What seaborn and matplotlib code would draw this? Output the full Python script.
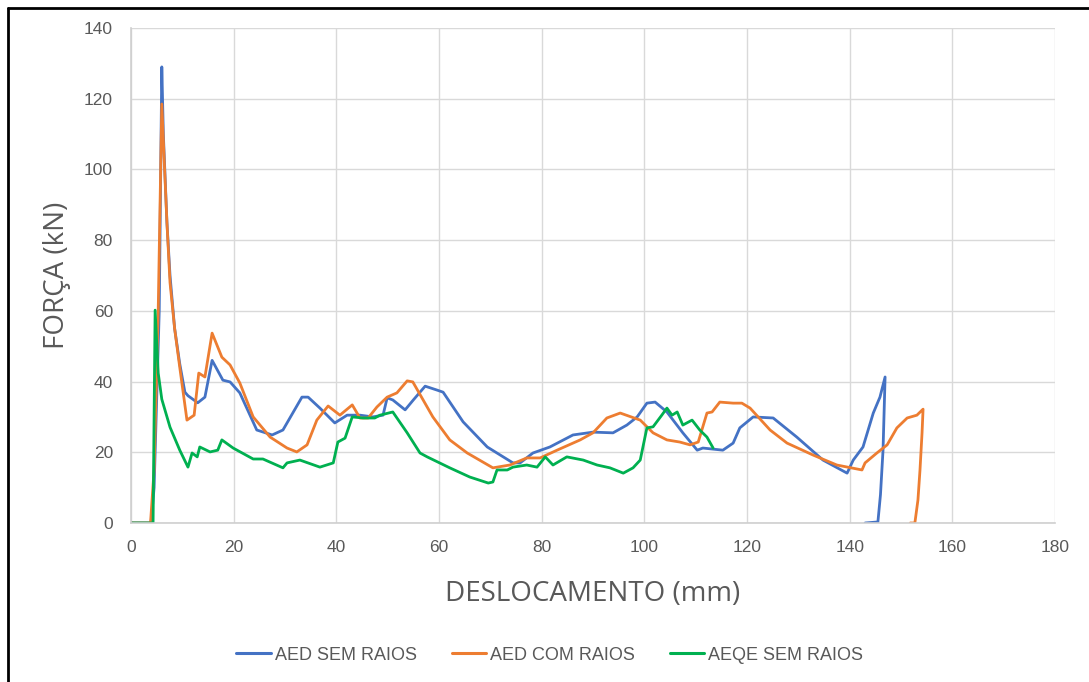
import matplotlib
matplotlib.use("Agg")
import matplotlib.pyplot as plt
import seaborn as sns
import pandas as pd
from matplotlib.lines import Line2D

# ---- data ----
blue_x = [0, 3.9, 4.5, 5.5, 6.0, 6.3, 7.0, 7.6, 8.5, 9.5, 10.5, 11.1, 13.0, 14.4, 15.8, 17.9, 19.3,
          21.2, 24.5, 27.5, 29.6, 33.3, 34.5, 36.8, 39.7, 42.1, 44.6, 47.1, 49.1, 49.9, 51.0, 53.4,
          55.0, 57.3, 59.6, 60.8, 64.7, 69.4, 74.4, 75.8, 78.3, 81.6, 86.1, 90.0, 93.9, 96.6, 98.6,
          100.5, 102.1, 104.4, 107.5, 110.3, 111.4, 115.3, 117.3, 118.6, 121.2, 125.1, 129.7, 134.8,
          139.5, 140.7, 142.6, 144.6, 145.9, 146.9, 146.5, 146.0, 145.5, 143.0]
blue_y = [0, 0, 10, 60, 129, 110, 85, 70, 55, 45, 37, 36, 34, 35.6, 46, 40.4, 39.9,
          36.8, 26.3, 24.9, 26.3, 35.6, 35.6, 32.5, 28.3, 30.5, 30.5, 30, 30.5, 35.4, 34.8, 32,
          34.8, 38.7, 37.6, 37, 28.6, 21.5, 17, 17, 19.8, 21.5, 24.9, 25.7, 25.5, 27.7, 30,
          33.9, 34.2, 31.4, 25.5, 20.6, 21.2, 20.6, 22.6, 26.9, 30, 29.7, 24.3, 17.8,
          14.1, 17.8, 21.5, 31.1, 35.6, 41.3, 20.6, 8, 0.3, 0]

orange_x = [0, 3.8, 4.5, 5.3, 6.0, 6.4, 7.0, 7.6, 8.5, 9.5, 10.9, 12.3, 13.2, 14.4, 15.8, 17.7, 19.3,
            21.2, 23.8, 27.1, 30.4, 32.3, 34.3, 36.2, 38.4, 40.7, 43.1, 44.6, 46.2, 47.9, 49.9, 51.8,
            53.8, 54.9, 58.8, 62.1, 65.5, 70.5, 73.8, 77.1, 79.7, 83.0, 87.5, 90.0, 92.7, 95.3, 99.2,
            101.7, 104.4, 106.9, 108.9, 110.5, 112.2, 113.2, 114.7, 117.3, 119.0, 120.6, 124.5, 127.8,
            132.9, 137.5, 142.4, 143.0, 145.3, 147.3, 149.2, 151.2, 153.1, 154.3, 154.1, 153.7, 153.3,
            152.7, 151.8]
orange_y = [0, 0, 15, 60, 118.5, 105, 85, 68, 55, 44, 29.1, 30.5, 42.4, 41.3, 53.7, 46.9, 44.7,
            39.6, 30, 24.3, 21.2, 20.1, 22.1, 29.1, 33.1, 30.5, 33.4, 29.7, 29.7, 32.8, 35.6, 36.8,
            40.2, 39.9, 30, 23.5, 19.8, 15.6, 16.4, 18.4, 18.4, 20.6, 23.5, 25.5, 29.7, 31.1, 29.1,
            25.5, 23.5, 22.9, 22.1, 22.9, 31.1, 31.4, 34.2, 33.9, 33.9, 32.5, 26.3, 22.6,
            19.2, 16.4, 15.0, 17.0, 19.8, 22.1, 26.9, 29.7, 30.5, 32.2, 25.5, 15, 6.5,
            0, 0]

green_x = [0, 4.3, 4.7, 5.3, 6.0, 7.6, 9.5, 11.1, 11.9, 12.9, 13.4, 15.4, 16.9, 17.7, 19.9, 23.8,
           25.7, 29.6, 30.4, 32.9, 36.8, 39.4, 40.3, 41.7, 43.1, 45.2, 47.5, 48.5, 51.0, 53.8, 56.3,
           57.7, 62.1, 66.0, 69.6, 70.5, 71.3, 73.3, 74.4, 77.1, 79.1, 80.7, 82.2, 84.9, 88.1, 90.8,
           93.3, 95.9, 97.8, 99.2, 100.5, 101.7, 103.4, 104.4, 105.4, 106.4, 107.5, 109.3, 110.8,
           112.2, 113.4]
green_y = [0, 0, 60.2, 42.4, 35, 27.1, 20.6, 15.8, 19.8, 18.7, 21.5, 20.1, 20.6, 23.5, 21.2, 18.1,
           18.1, 15.6, 17, 17.8, 15.8, 17, 22.9, 24, 30, 29.7, 29.7, 30.5, 31.4, 25.5, 19.8,
           18.7, 15.6, 13, 11.3, 11.6, 15, 15, 15.8, 16.4, 15.8, 18.7, 16.4, 18.7, 17.8, 16.4,
           15.6, 14.1, 15.6, 17.8, 26.9, 27.2, 30.5, 32.5, 30.5, 31.4, 27.7, 29.1, 26.3,
           24.3, 21.2]

series_names = ["AED SEM RAIOS", "AED COM RAIOS", "AEQE SEM RAIOS"]
x_ticks = [0, 20, 40, 60, 80, 100, 120, 140, 160, 180]
y_ticks = [0, 20, 40, 60, 80, 100, 120, 140]
x_label = "DESLOCAMENTO (mm)"
y_label = "FORÇA (kN)"

frames = []
for name, xs, ys in zip(series_names, [blue_x, orange_x, green_x], [blue_y, orange_y, green_y]):
    d = pd.DataFrame({"x": xs, "y": ys})
    d["serie"] = name
    frames.append(d)
df = pd.concat(frames, ignore_index=True)

sns.set_theme(style="white")
plt.rcParams['font.family'] = ['Liberation Sans Narrow', 'Liberation Sans', 'DejaVu Sans']

palette = {"AED SEM RAIOS": "#4472C4", "AED COM RAIOS": "#ED7D31", "AEQE SEM RAIOS": "#00B050"}

fig = plt.figure(figsize=(10.89, 6.82), dpi=100)
ax = fig.add_axes([131/1089, 1 - 523/682, (1055-131)/1089, (523-28)/682])

sns.lineplot(data=df, x="x", y="y", hue="serie", palette=palette, sort=False,
             estimator=None, linewidth=2.0, ax=ax, legend=False)

ax.set_xlim(0, 180)
ax.set_ylim(0, 140)
ax.set_xticks(x_ticks)
ax.set_yticks(y_ticks)
ax.grid(True, color="#d9d9d9", linewidth=1.0)
ax.set_axisbelow(True)
for s in ["top", "right"]:
    ax.spines[s].set_visible(False)
for s in ["left", "bottom"]:
    ax.spines[s].set_color("#cfcfcf")
    ax.spines[s].set_linewidth(1.2)
ax.tick_params(axis="y", length=0, labelsize=12.5, colors="#595959", pad=13)
ax.tick_params(axis="x", length=0, labelsize=12.5, colors="#595959", pad=12)

lab_font = dict(family=['Open Sans', 'DejaVu Sans'], size=20, color="#595959")
ax.set_xlabel(x_label, labelpad=18, **lab_font)
ax.set_ylabel(y_label, labelpad=9, **lab_font)

handles = [Line2D([0], [0], color=palette[n], lw=2.2) for n in series_names]
fig.legend(handles, series_names, loc="center", bbox_to_anchor=(0.505, 1 - 655/682), ncol=3,
           frameon=False, fontsize=13, handlelength=1.9, columnspacing=1.9, handletextpad=0.25,
           labelcolor="#595959")

# outer frame (top and left edges)
fig.add_artist(Line2D([8/1089, 1], [1 - 8/682, 1 - 8/682], transform=fig.transFigure, color="black", lw=2))
fig.add_artist(Line2D([8/1089, 8/1089], [0, 1 - 8/682], transform=fig.transFigure, color="black", lw=2))

fig.savefig("out.png", dpi=100, facecolor="white")
